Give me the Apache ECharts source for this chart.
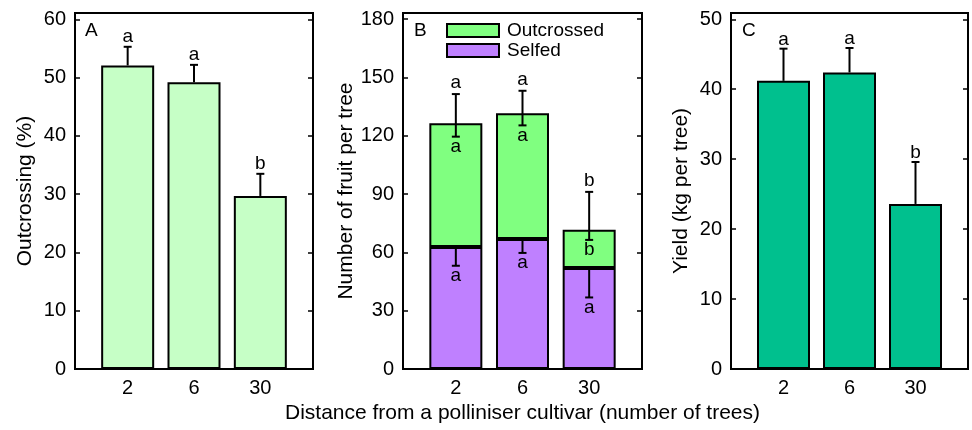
<!DOCTYPE html>
<html>
<head>
<meta charset="utf-8">
<script src="https://cdn.jsdelivr.net/npm/echarts@6/dist/echarts.min.js"></script>
<style>html,body{margin:0;padding:0;background:#fff}#c{width:972px;height:430px}</style>
</head>
<body>
<div id="c"></div>
<script>
const categories = ['2', '6', '30'];
// Panel A
const outcrossingPct = [52.1, 49.2, 29.7];
const outcrossingErrHigh = [55.3, 52.2, 33.5];
const outcrossingLetters = ['a', 'a', 'b'];
// Panel B
const fruitSelfed = [62.8, 66.8, 51.9];
const fruitOutcrossed = [63.6, 64.7, 19.7];
const fruitTotalErrHigh = [141.4, 143.1, 91.1];
const fruitTotalErrLow = [119.5, 125.3, 66.4];
const fruitSelfedErrLow = [53.1, 59.7, 36.8];
const fruitTotalLetters = ['a', 'a', 'b'];
const fruitOutcrossedLetters = ['a', 'a', 'b'];
const fruitSelfedLetters = ['a', 'a', 'a'];
// Panel C
const yieldKg = [41.2, 42.4, 23.6];
const yieldErrHigh = [45.8, 45.9, 29.6];
const yieldLetters = ['a', 'a', 'b'];
// Tick labels
const ticksA = [0, 10, 20, 30, 40, 50, 60];
const ticksB = [0, 30, 60, 90, 120, 150, 180];
const ticksC = [0, 10, 20, 30, 40, 50];

const FF = '"Liberation Sans", Arial, sans-serif';
const chart = echarts.init(document.getElementById('c'));

function errRender(capStart) {
  return function (params, api) {
    const x = api.value(0);
    const p0 = api.coord([x, api.value(1)]);
    const p1 = api.coord([x, api.value(2)]);
    const hw = 4;
    const st = { stroke: '#000', lineWidth: 2 };
    const children = [
      { type: 'line', shape: { x1: p0[0], y1: p0[1], x2: p1[0], y2: p1[1] }, style: st },
      { type: 'line', shape: { x1: p1[0] - hw, y1: p1[1], x2: p1[0] + hw, y2: p1[1] }, style: st }
    ];
    if (capStart) children.push({ type: 'line', shape: { x1: p0[0] - hw, y1: p0[1], x2: p0[0] + hw, y2: p0[1] }, style: st });
    return { type: 'group', children: children };
  };
}
function letters(xi, yi, arr, anchors, dy) {
  return {
    type: 'scatter', xAxisIndex: xi, yAxisIndex: yi, z: 6, symbolSize: 0, silent: true,
    itemStyle: { opacity: 1 },
    data: anchors.map((v, i) => [i, v]),
    label: {
      show: true, position: 'inside', offset: [0, dy], opacity: 1,
      formatter: p => arr[p.dataIndex],
      fontSize: 19, color: '#000', fontFamily: FF
    }
  };
}
const frameX = gi => ({ type: 'value', gridIndex: gi, show: false, min: 0, max: 1 });
function barX(gi, name) {
  return {
    type: 'category', gridIndex: gi, data: categories,
    axisLine: { show: false }, axisTick: { show: false }, splitLine: { show: false },
    axisLabel: { fontSize: 20, color: '#000', margin: 9, fontFamily: FF },
    name: name || '', nameLocation: 'middle', nameGap: 34,
    nameTextStyle: { fontSize: 21, color: '#000', fontFamily: FF }
  };
}
function yAxL(gi, max, ticks, name, gap) {
  return {
    type: 'value', gridIndex: gi, min: 0, max: max, position: 'left',
    axisLine: { show: false },
    axisTick: { inside: true, length: 5, customValues: ticks, lineStyle: { color: '#000', width: 1.5 } },
    axisLabel: { customValues: ticks, fontSize: 20, color: '#000', margin: 9, fontFamily: FF },
    splitLine: { show: false },
    name: name, nameLocation: 'middle', nameGap: gap,
    nameTextStyle: { fontSize: 21, color: '#000', fontFamily: FF }
  };
}
function yAxR(gi, max, ticks) {
  return {
    type: 'value', gridIndex: gi, min: 0, max: max, position: 'right',
    axisLine: { show: false },
    axisTick: { inside: true, length: 5, customValues: ticks, lineStyle: { color: '#000', width: 1.5 } },
    axisLabel: { show: false }, splitLine: { show: false }
  };
}
const yHidden = (gi, max) => ({ type: 'value', gridIndex: gi, min: 0, max: max, show: false });
const pair = (a, b) => a.map((v, i) => [i, v, b[i]]);
const barStyle = c => ({ color: c, borderColor: '#000', borderWidth: 2 });
const frameBase = { top: 13, bottom: 61, show: true, borderColor: '#000', borderWidth: 2, backgroundColor: 'transparent', containLabel: false, outerBoundsMode: 'none' };
const barBase = { top: 13, bottom: 61, containLabel: false, outerBoundsMode: 'none' };
const titleStyle = { fontSize: 19, fontWeight: 'normal', color: '#000', fontFamily: FF };
const maxA = 61.1, maxB = 183.1, maxC = 50.9;

const option = {
  animation: false,
  backgroundColor: '#fff',
  title: [
    { text: 'A', left: 85, top: 21, padding: 0, textStyle: titleStyle },
    { text: 'B', left: 414, top: 21, padding: 0, textStyle: titleStyle },
    { text: 'C', left: 742, top: 21, padding: 0, textStyle: titleStyle }
  ],
  legend: {
    data: ['Outcrossed', 'Selfed'], orient: 'vertical', left: 446, top: 21, padding: 0,
    itemWidth: 52, itemHeight: 13, itemGap: 1, selectedMode: false, icon: 'rect',
    itemStyle: { borderColor: '#000', borderWidth: 2 },
    textStyle: { fontSize: 19, lineHeight: 19, color: '#000', fontFamily: FF, padding: [0, 0, 0, 3] }
  },
  grid: [
    Object.assign({ left: 75, right: 659 }, frameBase),
    Object.assign({ left: 94.5, right: 678.5 }, barBase),
    Object.assign({ left: 403, right: 330 }, frameBase),
    Object.assign({ left: 422.5, right: 349.5 }, barBase),
    Object.assign({ left: 731, right: 4 }, frameBase),
    Object.assign({ left: 750.5, right: 23.5 }, barBase)
  ],
  xAxis: [
    frameX(0), barX(1),
    frameX(2), barX(3, 'Distance from a polliniser cultivar (number of trees)'),
    frameX(4), barX(5)
  ],
  yAxis: [
    yAxL(0, maxA, ticksA, 'Outcrossing (%)', 39), yAxR(0, maxA, ticksA), yHidden(1, maxA),
    yAxL(2, maxB, ticksB, 'Number of fruit per tree', 46), yAxR(2, maxB, ticksB), yHidden(3, maxB),
    yAxL(4, maxC, ticksC, 'Yield (kg per tree)', 39), yAxR(4, maxC, ticksC), yHidden(5, maxC)
  ],
  series: [
    { type: 'bar', xAxisIndex: 1, yAxisIndex: 2, barWidth: 53, data: outcrossingPct, itemStyle: barStyle('#c6ffc6') },
    { type: 'custom', xAxisIndex: 1, yAxisIndex: 2, z: 5, clip: false, renderItem: errRender(false), data: pair(outcrossingPct, outcrossingErrHigh) },
    letters(1, 2, outcrossingLetters, outcrossingErrHigh, -10),

    { name: 'Selfed', type: 'bar', stack: 'fruit', xAxisIndex: 3, yAxisIndex: 5, barWidth: 53, data: fruitSelfed, itemStyle: barStyle('#bf80ff') },
    { name: 'Outcrossed', type: 'bar', stack: 'fruit', xAxisIndex: 3, yAxisIndex: 5, barWidth: 53, data: fruitOutcrossed, itemStyle: barStyle('#80ff80') },
    { type: 'custom', xAxisIndex: 3, yAxisIndex: 5, z: 5, clip: false, renderItem: errRender(true), data: pair(fruitTotalErrLow, fruitTotalErrHigh) },
    { type: 'custom', xAxisIndex: 3, yAxisIndex: 5, z: 5, clip: false, renderItem: errRender(false), data: pair(fruitSelfed, fruitSelfedErrLow) },
    letters(3, 5, fruitTotalLetters, fruitTotalErrHigh, -11),
    letters(3, 5, fruitOutcrossedLetters, fruitTotalErrLow, 10),
    letters(3, 5, fruitSelfedLetters, fruitSelfedErrLow, 10),

    { type: 'bar', xAxisIndex: 5, yAxisIndex: 8, barWidth: 53, data: yieldKg, itemStyle: barStyle('#00c08e') },
    { type: 'custom', xAxisIndex: 5, yAxisIndex: 8, z: 5, clip: false, renderItem: errRender(false), data: pair(yieldKg, yieldErrHigh) },
    letters(5, 8, yieldLetters, yieldErrHigh, -9)
  ]
};
chart.setOption(option);
</script>
</body>
</html>
